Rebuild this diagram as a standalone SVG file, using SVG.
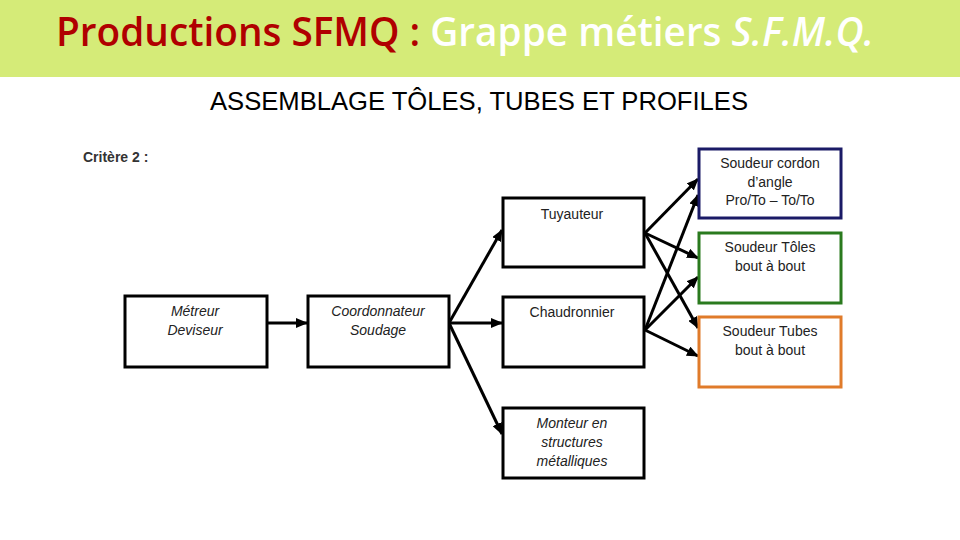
<svg xmlns="http://www.w3.org/2000/svg" width="960" height="540" viewBox="0 0 960 540">
<defs>
<marker id="ah" markerUnits="userSpaceOnUse" markerWidth="12" markerHeight="10" refX="11" refY="5" orient="auto">
<path d="M0,0 L12,5 L0,10 z" fill="#000"/>
</marker>
<style>
.box{fill:#fff;stroke:#000;stroke-width:3}
.t{font-family:"Liberation Sans",Arial,sans-serif;font-size:14px;fill:#222;text-anchor:middle}
.i{font-style:italic}
.c line{stroke:#000;stroke-width:3;marker-end:url(#ah)}
</style>
</defs>
<rect x="0" y="0" width="960" height="540" fill="#fff"/>
<rect x="0" y="0" width="960" height="77" fill="#d5eb78"/>
<text x="56" y="46" font-family="'Open Sans','Liberation Sans',sans-serif" font-weight="600" font-size="39" textLength="818" lengthAdjust="spacingAndGlyphs"><tspan fill="#b00000">Productions SFMQ : </tspan><tspan fill="#fff">Grappe métiers </tspan><tspan fill="#fff" font-style="italic">S.F.M.Q.</tspan></text>
<text x="479" y="110" font-family="'Liberation Sans',sans-serif" font-size="26" text-anchor="middle" fill="#000" textLength="538" lengthAdjust="spacingAndGlyphs">ASSEMBLAGE TÔLES, TUBES ET PROFILES</text>
<text x="83" y="162" font-family="'Liberation Sans',sans-serif" font-weight="bold" font-size="14" fill="#333">Critère 2 :</text>
<g class="c" id="connectors">
<line x1="267" y1="323" x2="307" y2="323"/>
<line x1="449" y1="323" x2="502" y2="230"/>
<line x1="449" y1="323" x2="502" y2="323"/>
<line x1="449" y1="323" x2="502" y2="434"/>
<line x1="645" y1="233" x2="698" y2="179"/>
<line x1="645" y1="233" x2="698" y2="258"/>
<line x1="645" y1="233" x2="698" y2="328"/>
<line x1="645" y1="330" x2="698" y2="195"/>
<line x1="645" y1="330" x2="698" y2="277"/>
<line x1="645" y1="330" x2="698" y2="356"/>
</g>
<g id="metreur"><rect class="box" x="125" y="296" width="142" height="71"/><text class="t i" x="195" y="316">Métreur</text><text class="t i" x="195" y="335">Deviseur</text></g>
<g id="coordonnateur"><rect class="box" x="308" y="296" width="141" height="71"/><text class="t i" x="378" y="316">Coordonnateur</text><text class="t i" x="378" y="335">Soudage</text></g>
<g id="tuyauteur"><rect class="box" x="503" y="198" width="141" height="69"/><text class="t" x="572" y="219">Tuyauteur</text></g>
<g id="chaudronnier"><rect class="box" x="503" y="297" width="141" height="70"/><text class="t" x="572" y="317">Chaudronnier</text></g>
<g id="monteur"><rect class="box" x="503" y="408" width="141" height="70"/><text class="t i" x="572" y="428">Monteur  en</text><text class="t i" x="572" y="447">structures</text><text class="t i" x="572" y="466">métalliques</text></g>
<g id="cordon"><rect class="box" x="699" y="149" width="142" height="69" style="stroke:#1a1a66"/><text class="t" x="770" y="168">Soudeur cordon</text><text class="t" x="770" y="187">d’angle</text><text class="t" x="770" y="205">Pro/To – To/To</text></g>
<g id="toles"><rect class="box" x="699" y="233" width="142" height="70" style="stroke:#2a7a1e"/><text class="t" x="770" y="252">Soudeur Tôles</text><text class="t" x="770" y="271">bout à bout</text></g>
<g id="tubes"><rect class="box" x="699" y="317" width="142" height="70" style="stroke:#e07b2a"/><text class="t" x="770" y="336">Soudeur Tubes</text><text class="t" x="770" y="355">bout à bout</text></g>
</svg>
